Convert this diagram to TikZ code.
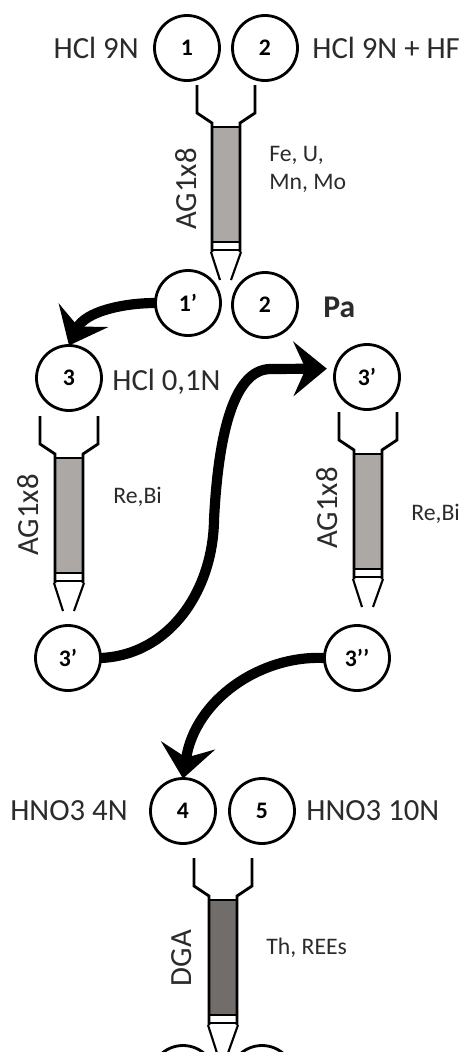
\documentclass[tikz,border=0pt]{standalone}
\usepackage{fontspec}
\setmainfont{Carlito}
\usetikzlibrary{arrows.meta}
\definecolor{resinlight}{HTML}{ACA8A6}
\definecolor{resindark}{HTML}{716D6B}
\definecolor{labeltext}{HTML}{2B2B2B}
\tikzset{
	vial/.style={draw, circle, line width=1.6pt, minimum size=37pt, inner sep=0pt, outer sep=0pt, font=\fontsize{13.5}{14}\selectfont\bfseries},
	reagent/.style={inner sep=0pt, text=labeltext, font=\fontsize{17.5}{20}\selectfont},
	eluted/.style={inner sep=0pt, text=labeltext, align=left, font=\fontsize{13.5}{16}\selectfont},
	resin/.style={inner sep=0pt, text=labeltext, rotate=90, font=\fontsize{17.5}{20}\selectfont},
	transfer/.style={line width=5.8pt, -{Stealth[length=19pt,width=31pt,inset=7pt]}}
}
\def\colbody[#1](#2,#3){
	\begin{scope}[shift={(#2,#3)}]
		\draw[fill=#1, draw=none] (-14, 42) rectangle (14, 157);
		\draw[line width=1.6pt] (-29, 0) -- (-29, 28) -- (-14, 38) -- (-14, 167);
		\draw[line width=1.6pt] (29, 0) -- (29, 28) -- (14, 38) -- (14, 167);
		\draw[line width=1.6pt] (-14, 42) -- (14, 42);
		\draw[line width=1.2pt] (-14, 157) -- (14, 157);
		\draw[line width=1.6pt] (-14, 165) -- (14, 165);
		\draw[line width=1.2pt] (-15, 167) -- (-6, 195);
		\draw[line width=1.2pt] (15, 167) -- (5, 195);
	\end{scope}
}

\begin{document}
\begin{tikzpicture}[x=0.02cm, y=-0.02cm]
	\useasboundingbox (0, 0) rectangle (464, 1052);
	\clip (0, 0) rectangle (464, 1052);

	% first column
	\node[vial] (one) at (187, 48) {1};
	\node[vial] (two) at (265, 48) {2};
	\node[reagent, anchor=east] (hcl9) at (139, 48) {HCl 9N};
	\node[reagent, anchor=west] (hcl9hf) at (312, 48) {HCl 9N + HF};
	\colbody[resinlight](226, 85)
	\node[resin] (agone) at (186, 189) {AG1x8};
	\node[eluted, anchor=north west] (feu) at (269, 146) {Fe, U,\\Mn, Mo};
	\node[vial] (onep) at (188, 303) {1’};
	\node[vial] (twob) at (265, 305) {2};
	\node[reagent, anchor=west, font=\fontsize{18}{20}\selectfont\bfseries] (pa) at (323, 307) {Pa};

	% second column
	\node[vial] (three) at (69, 378) {3};
	\node[reagent, anchor=west] (hcl01) at (112, 382) {HCl 0,1N};
	\colbody[resinlight](69, 416)
	\node[resin] (agtwo) at (28, 515) {AG1x8};
	\node[eluted, anchor=west] (rebia) at (113, 497) {Re,Bi};
	\node[vial] (threepa) at (68, 658) {3’};

	% third column
	\node[vial] (threepb) at (367, 377) {3’};
	\colbody[resinlight](368, 412)
	\node[resin] (agthree) at (327, 508) {AG1x8};
	\node[eluted, anchor=west] (rebib) at (411, 514) {Re,Bi};
	\node[vial] (threepp) at (357, 658) {3’’};

	% last column
	\node[vial] (four) at (183, 811) {4};
	\node[vial] (five) at (262, 811) {5};
	\node[reagent, anchor=east] (hno4) at (128, 811) {HNO3 4N};
	\node[reagent, anchor=west] (hno10) at (306, 811) {HNO3 10N};
	\colbody[resindark](223, 858)
	\node[resin] (dga) at (182, 958) {DGA};
	\node[eluted, anchor=west] (thrare) at (266, 948) {Th, REEs};
	\node[vial] (six) at (183, 1078) {};
	\node[vial] (seven) at (262, 1078) {};

	% transfers
	\draw[transfer] (onep.west) .. controls (122, 303) and (85, 312) .. (three.north);
	\draw[transfer, shorten >=5pt] (threepa.east) .. controls (170, 655) and (213, 590) .. (214, 520) .. controls (218, 440) and (232, 370) .. (270, 369) -- (threepb.165);
	\draw[transfer] (threepp.west) .. controls (260, 655) and (195, 700) .. (four.north);
\end{tikzpicture}
\end{document}
